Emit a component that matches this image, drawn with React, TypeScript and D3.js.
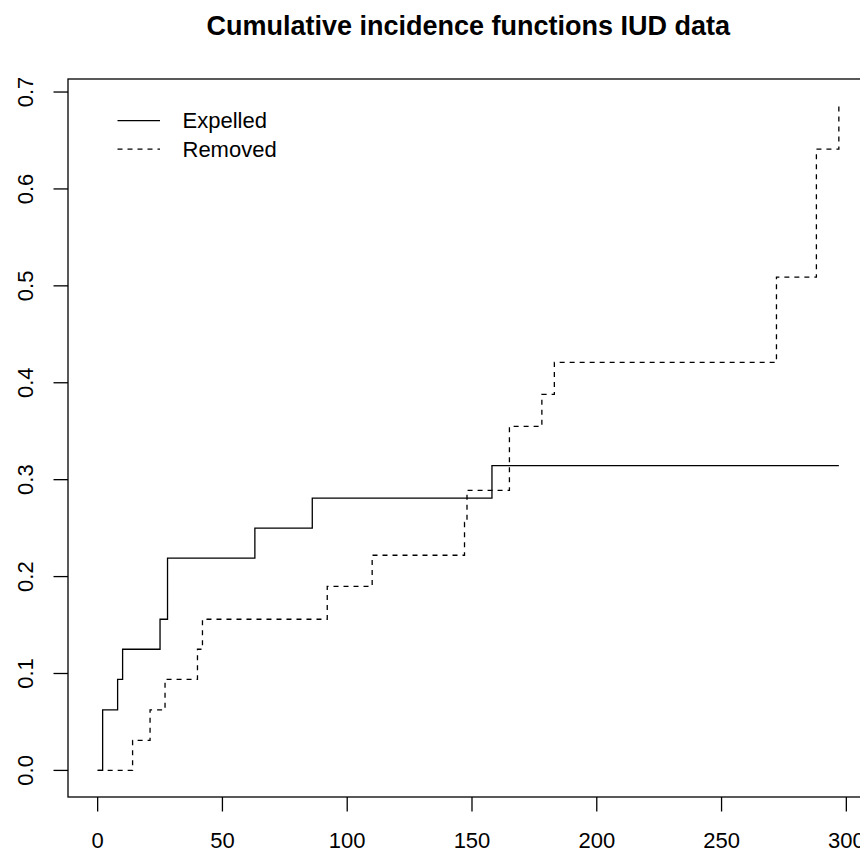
import React from 'react';
import * as d3 from 'd3';

const width = 860;
const height = 852;

// event times and cumulative incidence
const expelledTimes = [0, 2, 8, 10, 25, 28, 63, 86, 158, 297];
const expelledValues = [0, 0.0625, 0.094, 0.125, 0.156, 0.219, 0.25, 0.281, 0.3145, 0.3145];

const removedTimes = [0, 14, 21, 27, 40, 42, 92, 110, 147, 148, 165, 178, 183, 272, 288, 297];
const removedValues = [0, 0.031, 0.0625, 0.094, 0.125, 0.156, 0.19, 0.222, 0.256, 0.289, 0.355, 0.388, 0.421, 0.509, 0.641, 0.686];

const xTicks = [0, 50, 100, 150, 200, 250, 300];
const yTicks = [0, 0.1, 0.2, 0.3, 0.4, 0.5, 0.6, 0.7];
const legendLabels = ['Expelled', 'Removed'];

const font = 'Liberation Sans, Arial, Helvetica, sans-serif';

// plot region (R style 4% padding on the data range)
const left = 68;
const right = 868.5;
const top = 79;
const bottom = 797;

const xMax = d3.max(expelledTimes.concat(removedTimes)) as number;
const yMax = d3.max(expelledValues.concat(removedValues)) as number;

const x = d3.scaleLinear()
  .domain([-0.04 * xMax, xMax * 1.04])
  .range([left, right]);

const y = d3.scaleLinear()
  .domain([-0.04 * yMax, yMax * 1.04])
  .range([bottom, top]);

const step = d3.line<[number, number]>()
  .x(d => x(d[0]))
  .y(d => y(d[1]))
  .curve(d3.curveStepAfter);

const expelled = expelledTimes.map((t, i) => [t, expelledValues[i]] as [number, number]);
const removed = removedTimes.map((t, i) => [t, removedValues[i]] as [number, number]);

const dash = '5,5';
const lw = 1.3;

const App = () => {
  return (
    <svg
      width={width}
      height={height}
      style={{ position: 'absolute', left: 0, top: 0, background: '#fff' }}
      fontFamily={font}
    >
      <rect width={width} height={height} fill="#fff" />

      <text x={(left + right) / 2} y={34.5} textAnchor="middle" fontSize={27} fontWeight="bold">
        Cumulative incidence functions IUD data
      </text>

      {/* series */}
      <path d={step(expelled) as string} fill="none" stroke="#000" strokeWidth={lw} />
      <path d={step(removed) as string} fill="none" stroke="#000" strokeWidth={lw} strokeDasharray={dash} />

      {/* box */}
      <rect x={left} y={top} width={right - left} height={bottom - top} fill="none" stroke="#000" strokeWidth={1.3} />

      {/* x axis */}
      <g>
        {xTicks.map(t => (
          <g key={t} transform={`translate(${x(t)},0)`}>
            <line y1={bottom} y2={bottom + 14.5} stroke="#000" strokeWidth={1.3} />
            <text y={848} textAnchor="middle" fontSize={22}>{t}</text>
          </g>
        ))}
      </g>

      {/* y axis */}
      <g>
        {yTicks.map(t => (
          <g key={t} transform={`translate(0,${y(t)})`}>
            <line x1={left - 14.5} x2={left} stroke="#000" strokeWidth={1.3} />
            <text transform="translate(33,0) rotate(-90)" textAnchor="middle" fontSize={22}>
              {t.toFixed(1)}
            </text>
          </g>
        ))}
      </g>

      {/* legend */}
      <g>
        {legendLabels.map((lab, i) => (
          <g key={lab} transform={`translate(0,${120.7 + i * 28.5})`}>
            <line
              x1={117.5}
              x2={160}
              stroke="#000"
              strokeWidth={lw}
              strokeDasharray={i === 1 ? dash : undefined}
            />
            <text x={182.5} y={7.5} fontSize={22}>{lab}</text>
          </g>
        ))}
      </g>
    </svg>
  );
};

export default App;
